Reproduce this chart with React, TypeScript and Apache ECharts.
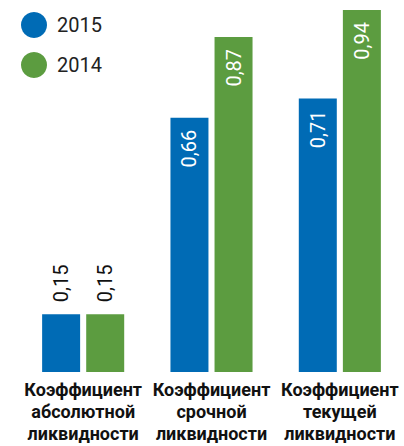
import React, { useEffect, useRef } from "react";
import * as echarts from "echarts";

const categories = [
  "Коэффициент\nабсолютной\nликвидности",
  "Коэффициент\nсрочной\nликвидности",
  "Коэффициент\nтекущей\nликвидности",
];
const seriesNames = ["2015", "2014"];
const values2015 = [0.15, 0.66, 0.71];
const values2014 = [0.15, 0.87, 0.94];
const colors = ["#006bb5", "#5c9c40"];

const fmt = (v: number) => v.toFixed(2).replace(".", ",");

export default function App() {
  const ref = useRef<HTMLDivElement>(null);
  useEffect(() => {
    if (!ref.current) return;
    const chart = echarts.init(ref.current, null, { renderer: "svg" });
    const labelFor = (v: number) =>
      v > 0.3
        ? {
            show: true,
            position: "insideTop",
            rotate: 90,
            align: "right",
            verticalAlign: "middle",
            distance: 12,
            color: "#ffffff",
            fontSize: 20,
            fontFamily: "Roboto",
            formatter: () => fmt(v),
          }
        : {
            show: true,
            position: "top",
            rotate: 90,
            align: "left",
            verticalAlign: "middle",
            distance: 12,
            color: "#111111",
            fontSize: 20,
            fontFamily: "Roboto",
            formatter: () => fmt(v),
          };
    const mkData = (arr: number[]) =>
      arr.map((v) => ({ value: v, label: labelFor(v) }));
    chart.setOption({
      animation: false,
      textStyle: { fontFamily: "Roboto" },
      legend: {
        orient: "vertical",
        left: 21,
        top: 12,
        padding: 0,
        itemWidth: 26,
        itemHeight: 26,
        itemGap: 14,
        icon: "circle",
        textStyle: {
          fontSize: 20,
          color: "#222222",
          fontFamily: "Roboto",
          padding: [0, 0, 0, 5],
        },
        data: seriesNames,
      },
      grid: { left: 19, width: 390, top: 10, bottom: 74, containLabel: false },
      xAxis: {
        type: "category",
        data: categories,
        axisLine: { show: false },
        axisTick: { show: false },
        axisLabel: {
          interval: 0,
          margin: 6,
          fontSize: 18,
          fontWeight: "bold",
          lineHeight: 22,
          color: "#111111",
          fontFamily: "Roboto",
        },
      },
      yAxis: {
        type: "value",
        min: 0,
        max: 0.94,
        show: false,
        splitLine: { show: false },
      },
      series: [
        {
          name: seriesNames[0],
          type: "bar",
          barWidth: 38,
          barGap: "16%",
          itemStyle: { color: colors[0] },
          data: mkData(values2015),
        },
        {
          name: seriesNames[1],
          type: "bar",
          barWidth: 38,
          barGap: "16%",
          itemStyle: { color: colors[1] },
          data: mkData(values2014),
        },
      ],
    });
    return () => chart.dispose();
  }, []);
  return (
    <div
      ref={ref}
      style={{ position: "absolute", left: 0, top: 0, width: 404, height: 446 }}
    />
  );
}
